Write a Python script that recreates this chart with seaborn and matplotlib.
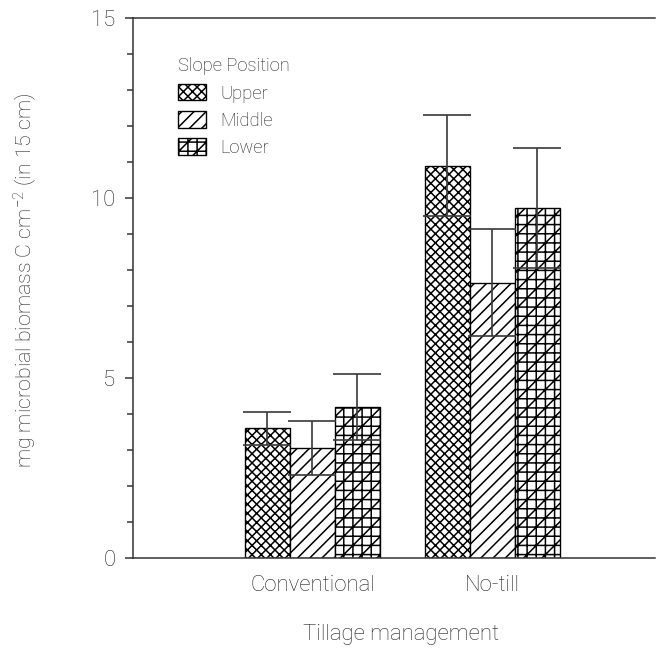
import matplotlib
matplotlib.use("Agg")
import matplotlib.pyplot as plt
from matplotlib.ticker import MultipleLocator
import numpy as np
import pandas as pd
import seaborn as sns

# Microbial biomass C by tillage system and slope position
tillage = ["Conventional", "No-till"]
slope = ["Upper", "Middle", "Lower"]
biomass_conventional = [3.60, 3.05, 4.20]
biomass_notill = [10.90, 7.65, 9.72]
err_conventional = [0.46, 0.75, 0.92]
err_notill = [1.40, 1.48, 1.66]
y_ticks = [0, 5, 10, 15]

df = pd.DataFrame({
    "tillage": np.repeat(tillage, len(slope)),
    "slope": slope * len(tillage),
    "biomass": biomass_conventional + biomass_notill,
    "err": err_conventional + err_notill,
})

sns.set_theme(style="white")
plt.rcParams["font.family"] = ["Roboto", "DejaVu Sans"]
plt.rcParams["font.weight"] = "light"
plt.rcParams["axes.labelweight"] = "light"
plt.rcParams["mathtext.default"] = "regular"
plt.rcParams["hatch.linewidth"] = 1.0
plt.rcParams["hatch.color"] = "black"

DPI = 110
fig = plt.figure(figsize=(661 / DPI, 649 / DPI), dpi=DPI)
ax = fig.add_axes([133 / 661, 1 - 558 / 649, 522 / 661, 540 / 649])

sns.barplot(data=df, x="tillage", y="biomass", hue="slope",
            order=tillage, hue_order=slope, width=0.75, gap=0,
            errorbar=None, color="white", palette=["white"] * 3,
            edgecolor="black", linewidth=0.9, legend=False, ax=ax)

hatches = ["xxxx", "///", "++//"]
for cont, h in zip(ax.containers, hatches):
    for p in cont:
        p.set_hatch(h)
        p.set_facecolor("white")
        p.set_edgecolor("black")

# error bars at each bar centre
for cont, lvl in zip(ax.containers, slope):
    sub = df[df["slope"] == lvl].set_index("tillage").loc[tillage]
    xs = [p.get_x() + p.get_width() / 2 for p in cont]
    ax.errorbar(xs, sub["biomass"].values, yerr=sub["err"].values, fmt="none",
                ecolor="#3a3a3a", elinewidth=1.1, capsize=15.5, capthick=1.1,
                zorder=5)

ax.set_xlim(-0.997, 1.903)
ax.set_ylim(0, 15)
ax.set_yticks(y_ticks)
ax.yaxis.set_minor_locator(MultipleLocator(1))

for side in ["left", "top", "bottom"]:
    ax.spines[side].set_visible(True)
    ax.spines[side].set_color("#333333")
    ax.spines[side].set_linewidth(1.0)
ax.spines["right"].set_visible(False)

ax.tick_params(axis="y", which="major", direction="out", length=5, width=1,
               color="#333333", labelsize=14.5, pad=6.5, left=True)
ax.tick_params(axis="y", which="minor", direction="out", length=4, width=1,
               color="#333333", left=True)
ax.tick_params(axis="x", length=0, labelsize=14.5, pad=11)
for t in ax.get_xticklabels() + ax.get_yticklabels():
    t.set_color("#222222")

ax.set_xlabel("Tillage management", fontsize=14.5, color="#222222",
              fontweight="light")
ax.xaxis.set_label_coords(0.513, -0.122)
ax.set_ylabel("mg microbial biomass C cm$^{-2}$ (in 15 cm)", fontsize=14,
              color="#222222", fontweight="light")
ax.yaxis.set_label_coords(-0.180, 0.515)

handles = [cont[0] for cont in ax.containers]
leg = ax.legend(handles, slope, title="Slope Position", loc="upper left",
                bbox_to_anchor=(0.086, 0.927), frameon=False, fontsize=12,
                title_fontsize=12, handlelength=1.55, handleheight=1.0,
                handletextpad=0.75, labelspacing=0.47, borderpad=0,
                borderaxespad=0, alignment="left")
leg.get_title().set_color("#222222")
for t in leg.get_texts():
    t.set_color("#222222")

fig.savefig("out.png", dpi=DPI)
